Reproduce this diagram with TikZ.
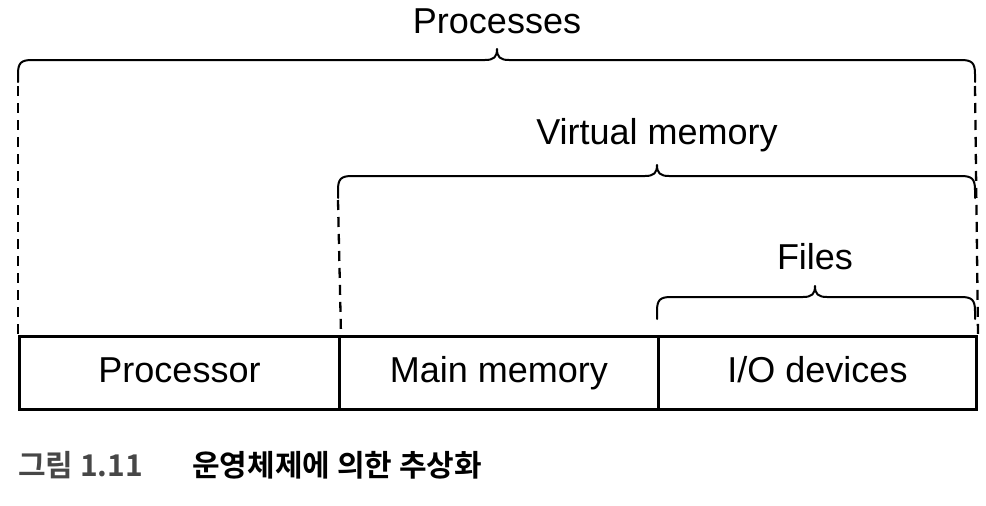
\documentclass[tikz,border=0pt]{standalone}
\usepackage{fontspec}
\setmainfont{Liberation Sans}
\newfontfamily\cjk{Noto Sans CJK KR}[BoldFont={* Bold}]
\begin{document}
\begin{tikzpicture}[x=1pt,y=-1pt,
  bracestyle/.style={line width=2pt, line cap=round, line join=round},
  dashstyle/.style={line width=2.3pt, dash pattern=on 10pt off 7pt},
  cell/.style={draw, line width=3pt, minimum height=73pt, inner sep=0pt, text height=26pt, text depth=7pt, font=\fontsize{36}{40}\selectfont},
  lbl/.style={inner sep=0pt, font=\fontsize{36}{40}\selectfont}]
\useasboundingbox (0,0) rectangle (986,506);
\newcommand\bracepath[4]{%
  \draw[bracestyle] ({#1},{#4+22}) -- ({#1},{#4+14}) .. controls ({#1},{#4+3}) and ({#1+3},{#4}) .. ({#1+14},{#4})
    -- ({#2-12},{#4}) .. controls ({#2-3},{#4}) and ({#2},{#4-3}) .. ({#2},{#4-11})
    .. controls ({#2},{#4-3}) and ({#2+3},{#4}) .. ({#2+12},{#4})
    -- ({#3-14},{#4}) .. controls ({#3-3},{#4}) and ({#3},{#4+3}) .. ({#3},{#4+14}) -- ({#3},{#4+22});}
% boxes
\node[cell, minimum width=320pt, anchor=north west] (proc) at (18,335) {Processor};
\node[cell, minimum width=319pt, anchor=north west] (mem) at (338,335) {Main memory};
\node[cell, minimum width=318pt, anchor=north west] (io) at (657,335) {I/O devices};
% braces
\bracepath{18}{497}{975}{60}
\bracepath{338}{657}{975}{176}
\bracepath{657}{815}{975}{297}
\coordinate (pl) at (18,86);
\coordinate (pr) at (975,86);
\coordinate (vl) at (338,200);
\draw[dashstyle] (pl) -- (proc.north west);
\draw[dashstyle] (pr) -- (io.north east);
\draw[dashstyle] (vl) -- (proc.north east);
% labels
\node[lbl] (tp) at (497,21) {Processes};
\node[lbl] (tv) at (657,135) {Virtual memory};
\node[lbl] (tf) at (815,257) {Files};
% caption
\node[inner sep=0pt, anchor=west, text=black!72, font=\cjk\bfseries\fontsize{30}{34}\selectfont] (fig) at (18,465) {그림 1.11};
\node[inner sep=0pt, anchor=west, font=\cjk\bfseries\fontsize{30}{34}\selectfont] (cap) at (192,465) {운영체제에 의한 추상화};
\end{tikzpicture}
\end{document}
